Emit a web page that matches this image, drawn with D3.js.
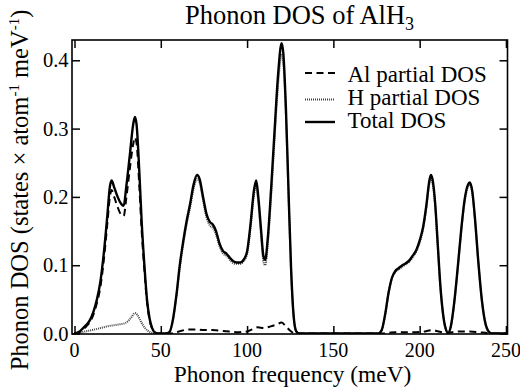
<!DOCTYPE html>
<html>
<head>
<meta charset="utf-8">
<script src="https://cdn.jsdelivr.net/npm/d3@7"></script>
<style>
  html, body { margin: 0; padding: 0; background: #fff; }
  svg { display: block; }
  text { font-family: "Liberation Serif", "Times New Roman", serif; fill: #000; }
</style>
</head>
<body>
<svg id="chart" width="520" height="390"></svg>
<script>
// ---- data (meV, states/atom/meV) ----
const totalFreq = [0,3,5,7,9,11,13,15,17,19,20.5,21.5,23,25,27,28.5,30,32,34,35,36,37.5,39,40.5,42,43.5,45,47,49,53,55,57,59,61,63,65,67,69,71,72.5,74.5,76.5,78.5,80,82,84,86,88,90,92,94,96,98,100,102,104,105.3,106.5,108,109.5,110.5,112,114,116,118,120,121,122.5,124,125.5,127,128.5,130,176,178,180,182,184,186,188,190,192,194,196,198,200,202,204,205.5,206.5,207.5,209,210.5,212,213.5,215,216.5,218,220,222,224,226,228,229,230.5,232,234,236,238,240,242,250];
const totalDOS  = [0,0.003,0.008,0.013,0.02,0.032,0.05,0.076,0.118,0.172,0.215,0.224,0.214,0.2,0.19,0.187,0.215,0.26,0.306,0.317,0.305,0.24,0.16,0.1,0.05,0.022,0.008,0.001,0,0,0.002,0.02,0.055,0.1,0.135,0.165,0.19,0.218,0.232,0.226,0.2,0.175,0.163,0.16,0.15,0.132,0.121,0.117,0.111,0.106,0.104,0.104,0.108,0.12,0.16,0.21,0.224,0.2,0.155,0.113,0.108,0.14,0.215,0.3,0.38,0.425,0.41,0.33,0.21,0.095,0.025,0.003,0,0,0.005,0.028,0.06,0.082,0.092,0.096,0.1,0.103,0.107,0.114,0.122,0.136,0.156,0.19,0.222,0.232,0.225,0.19,0.13,0.07,0.03,0.008,0.001,0.01,0.045,0.095,0.15,0.195,0.218,0.221,0.208,0.17,0.105,0.05,0.016,0.003,0,0];

const alFreq = [0,3,5,7,9,11,13,15,17,19,20.5,21.5,23,25,27,28.5,30,32,34,35,36,37.5,39,40.5,42,43.5,45,47,49,56,58,62,66,70,75,80,85,90,95,100,103,106,110,113,117,120,122,125,128,178,182,186,192,198,203,207,211,215,219,224,229,234,238,242,250];
const alDOS  = [0,0.002,0.006,0.011,0.017,0.028,0.045,0.068,0.108,0.16,0.2,0.21,0.2,0.185,0.174,0.172,0.198,0.24,0.277,0.287,0.278,0.218,0.147,0.093,0.046,0.02,0.007,0.001,0,0,0.001,0.004,0.006,0.006,0.005,0.005,0.004,0.003,0.002,0.003,0.006,0.009,0.008,0.01,0.013,0.016,0.012,0.004,0,0,0.001,0.002,0.002,0.002,0.003,0.005,0.003,0.001,0.002,0.003,0.003,0.002,0.001,0,0];

const hFreq = [0,3,6,10,15,20,25,29,31,33,35,36.5,38,40,42,44,46,53,55,57,59,61,63,65,67,69,71,72.5,74.5,76.5,78.5,80,82,84,86,88,90,92,94,96,98,100,102,104,105.3,106.5,108,109.5,110.5,112,114,116,118,120,121,122.5,124,125.5,127,128.5,130,176,178,180,182,184,186,188,190,192,194,196,198,200,202,204,205.5,206.5,207.5,209,210.5,212,213.5,215,216.5,218,220,222,224,226,228,229,230.5,232,234,236,238,240,242,250];
const hDOS  = [0,0.001,0.003,0.005,0.008,0.011,0.013,0.015,0.018,0.024,0.03,0.027,0.02,0.011,0.005,0.002,0,0,0.002,0.019,0.054,0.096,0.131,0.16,0.185,0.212,0.226,0.221,0.195,0.17,0.158,0.155,0.145,0.128,0.117,0.114,0.108,0.103,0.102,0.102,0.106,0.117,0.155,0.203,0.216,0.192,0.147,0.105,0.1,0.131,0.204,0.288,0.366,0.409,0.396,0.319,0.203,0.091,0.024,0.003,0,0,0.005,0.027,0.059,0.081,0.09,0.094,0.098,0.101,0.105,0.112,0.12,0.133,0.153,0.186,0.218,0.227,0.22,0.186,0.127,0.067,0.028,0.007,0.001,0.009,0.043,0.093,0.147,0.192,0.215,0.218,0.205,0.168,0.103,0.049,0.015,0.002,0,0];

const xTicks = [0,50,100,150,200,250];
const yTicks = [0,0.1,0.2,0.3,0.4];
const yTickLabels = ["0.0","0.1","0.2","0.3","0.4"];
const legendLabels = ["Al partial DOS","H partial DOS","Total DOS"];

// ---- layout ----
const svg = d3.select("#chart");
const L = 72, R = 507.5, T = 40, B = 334;
const x = d3.scaleLinear().domain([-1.45, 250.9]).range([L, R]);
const y = d3.scaleLinear().domain([-0.0007, 0.4297]).range([B, T]);

const toPts = (fx, fy) => fx.map((f, i) => [f, fy[i]]);
const line = d3.line().x(d => x(d[0])).y(d => y(d[1])).curve(d3.curveMonotoneX);

const g = svg.append("g");
g.append("clipPath").attr("id","clip").append("rect")
  .attr("x", L).attr("y", T - 2).attr("width", R - L).attr("height", B - T + 2);

const plot = g.append("g").attr("clip-path","url(#clip)");
plot.append("path").datum(toPts(alFreq, alDOS)).attr("d", line)
  .attr("fill","none").attr("stroke","#000").attr("stroke-width",2).attr("stroke-dasharray","7,4.5");
plot.append("path").datum(toPts(hFreq, hDOS)).attr("d", line)
  .attr("fill","none").attr("stroke","#444").attr("stroke-width",2).attr("stroke-dasharray","1,1");
plot.append("path").datum(toPts(totalFreq, totalDOS)).attr("d", line)
  .attr("fill","none").attr("stroke","#000").attr("stroke-width",2.4).attr("stroke-linejoin","round");

// axes with inward ticks
const tl = 8;
const axB = d3.axisBottom(x).tickValues(xTicks).tickSize(-tl).tickFormat("");
const axT = d3.axisTop(x).tickValues(xTicks).tickSize(-tl).tickFormat("");
const axL = d3.axisLeft(y).tickValues(yTicks).tickSize(-tl).tickFormat("");
const axR = d3.axisRight(y).tickValues(yTicks).tickSize(-tl).tickFormat("");
[[axB, `translate(0,${B})`],[axT, `translate(0,${T})`],[axL, `translate(${L},0)`],[axR, `translate(${R},0)`]].forEach(([a, tr]) => {
  const ag = g.append("g").attr("transform", tr).call(a);
  ag.select(".domain").remove();
  ag.selectAll(".tick line").attr("stroke","#000").attr("stroke-width",1.5);
});
g.append("rect").attr("x", L).attr("y", T).attr("width", R - L).attr("height", B - T)
  .attr("fill","none").attr("stroke","#000").attr("stroke-width",1.6);

// tick labels
g.selectAll(".xl").data(xTicks).enter().append("text")
  .attr("x", d => x(d)).attr("y", 356.5).attr("text-anchor","middle")
  .attr("font-size", 20).text(d => d);
g.selectAll(".yl").data(yTicks).enter().append("text")
  .attr("x", 68.5).attr("y", d => y(d) + 7).attr("text-anchor","end")
  .attr("font-size", 20.5).text((d, i) => yTickLabels[i]);

// title
const title = svg.append("text").attr("x", 299.5).attr("y", 24).attr("text-anchor","middle").attr("font-size", 26.5);
title.append("tspan").text("Phonon DOS of AlH");
title.append("tspan").attr("font-size", 18).attr("dy", 6).text("3");

// x label
svg.append("text").attr("x", 292.5).attr("y", 381.5).attr("text-anchor","middle")
  .attr("font-size", 23.4).text("Phonon frequency (meV)");

// y label
const yl = svg.append("text").attr("transform","translate(28,190) rotate(-90)")
  .attr("text-anchor","middle").attr("font-size", 24.5);
yl.append("tspan").text("Phonon DOS (states \u00d7 atom");
yl.append("tspan").attr("font-size", 15).attr("dy", -9).text("-1");
yl.append("tspan").attr("dy", 9).text(" meV");
yl.append("tspan").attr("font-size", 15).attr("dy", -9).text("-1");
yl.append("tspan").attr("dy", 9).text(")");

// legend
const legY = [73, 99.5, 122];
const legBase = [81.5, 104.5, 127.5];
const legStyles = [
  {w: 2, c: "#000", dash: "7,4.5"},
  {w: 2, c: "#444", dash: "1,1"},
  {w: 2.4, c: "#000", dash: null}
];
legendLabels.forEach((lab, i) => {
  const s = legStyles[i];
  svg.append("line").attr("x1", 305).attr("x2", 335).attr("y1", legY[i]).attr("y2", legY[i])
    .attr("stroke", s.c).attr("stroke-width", s.w).attr("stroke-dasharray", s.dash);
  svg.append("text").attr("x", 347.5).attr("y", legBase[i]).attr("font-size", 23).text(lab);
});
</script>
</body>
</html>
